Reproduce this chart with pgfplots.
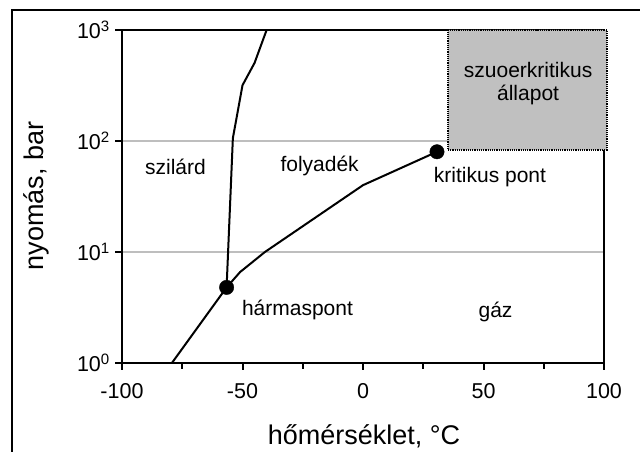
\documentclass[border=0pt]{standalone}
\usepackage{pgfplots}
\pgfplotsset{compat=1.18}
\usepackage{fontspec}
\setmainfont{Liberation Sans}
\definecolor{boxgray}{RGB}{192,192,192}
\definecolor{gridgray}{RGB}{190,190,190}
\begin{document}
\fontsize{21bp}{25bp}\selectfont
\begin{tikzpicture}[x=1bp,y=1bp]
\path[use as bounding box] (0,0) rectangle (640,-452);
\begin{scope}
\clip (0,0) rectangle (640,-452);
\draw[line width=2.5bp] (12,-470) -- (12,-10) -- (660,-10);
\end{scope}
\begin{axis}[
  at={(122bp,-363bp)}, anchor=south west,
  scale only axis, width=482bp, height=333bp,
  xmin=-100, xmax=100, ymode=log, ymin=1, ymax=1000,
  clip=false,
  xtick={-100,-50,0,50,100}, xticklabels={-100,-50,0,50,100},
  minor xtick={-75,-25,25,75},
  ytick={1,10,100,1000},
  yticklabels={10\textsuperscript{0},10\textsuperscript{1},10\textsuperscript{2},10\textsuperscript{3}},
  yminorticks=false,
  tick align=outside, tick pos=left,
  major tick length=7bp, minor tick length=6bp,
  every tick/.style={black, line width=2bp},
  axis line style={line width=2.5bp},
  ymajorgrids, grid style={gridgray, line width=1.5bp},
  xticklabel style={font=\fontsize{21.5bp}{25bp}\selectfont, yshift=-6bp},
  yticklabel style={font=\fontsize{21.5bp}{25bp}\selectfont, xshift=2bp},
]
% supercritical region
\addplot[fill=boxgray, draw=black, densely dotted, line width=1.2bp]
  coordinates {(35.3,83) (101.2,83) (101.2,1000) (35.3,1000) (35.3,83)};
% melting curve
\addplot[black, line width=2bp, no marks]
  coordinates {(-56.6,4.8) (-54,106) (-50,318) (-45,505) (-40,1000)};
% sublimation + vaporization curve
\addplot[black, line width=2bp, no marks]
  coordinates {(-79.3,1) (-56.6,4.8) (-51,6.6) (-40.7,10) (0,40) (30.7,80)};
% triple point and critical point
\addplot[only marks, mark=*, mark size=7.2bp, black]
  coordinates {(-56.6,4.8) (30.7,80)};
\node at (axis cs:-77.8,58) {szilárd};
\node at (axis cs:-18,60) {folyadék};
\node at (axis cs:52.7,47) {kritikus pont};
\node at (axis cs:-27.2,3.0) {hármaspont};
\node at (axis cs:55,2.9) {gáz};
\node[align=center, font=\fontsize{21bp}{23bp}\selectfont] at (axis cs:68.5,330) {szuoerkritikus\\állapot};
\end{axis}
\node[font=\fontsize{27bp}{31bp}\selectfont] at (364,-436) {hőmérséklet, °C};
\node[rotate=90, font=\fontsize{27bp}{31bp}\selectfont] at (36,-196) {nyomás, bar};
\end{tikzpicture}
\end{document}
